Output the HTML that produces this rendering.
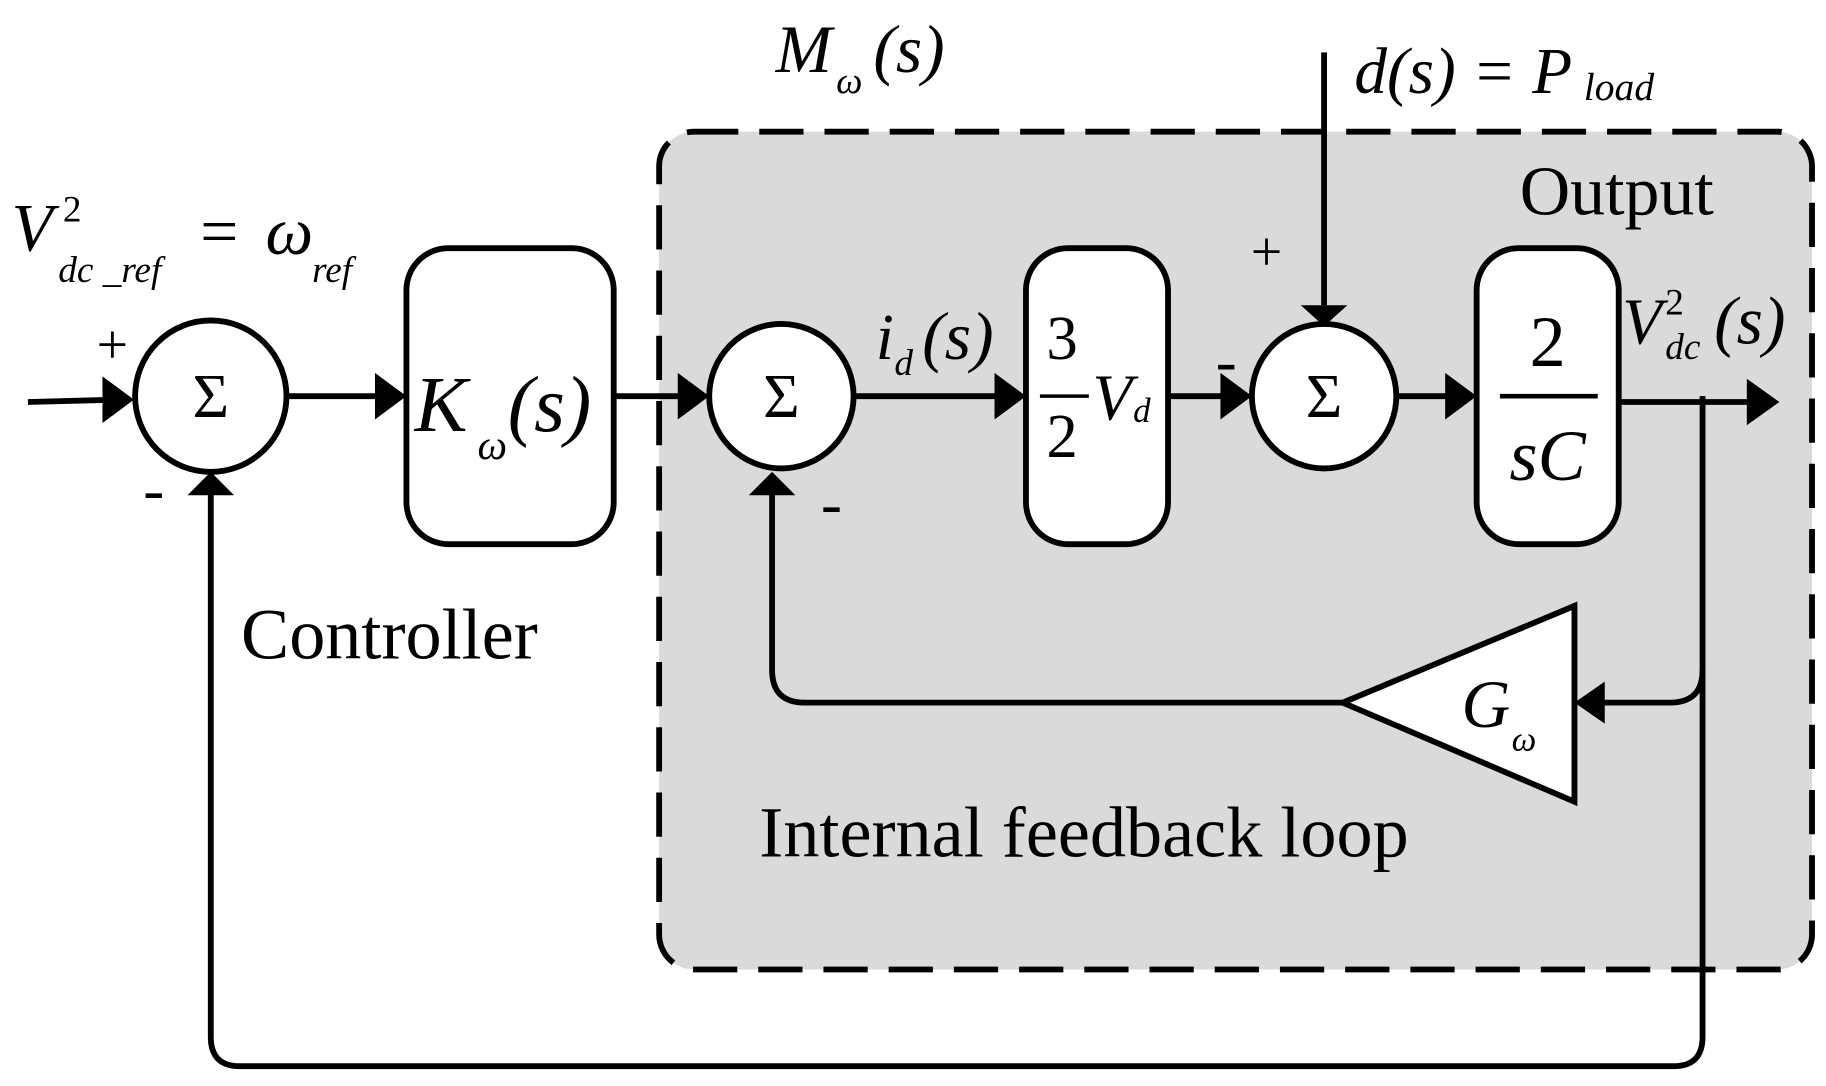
<!DOCTYPE html>
<html><head><style>
html,body{margin:0;padding:0;background:#fff;width:1826px;height:1086px;overflow:hidden}
svg{display:block}
text{font-family:"Liberation Serif",serif;fill:#000}
.i{font-style:italic}
</style></head><body>
<svg width="1826" height="1086" viewBox="0 0 1568 932" preserveAspectRatio="none" xmlns="http://www.w3.org/2000/svg">
<rect x="566" y="113" width="990" height="719" rx="30" fill="#d9dad9" stroke="#000" stroke-width="5" stroke-dasharray="38,18"/>
<g stroke="#000" stroke-width="5" fill="none">
<line x1="24" y1="345" x2="100" y2="343"/>
<path d="M88,323 L115,343 L88,363 z" fill="#000" stroke="none"/>
<circle cx="181" cy="340" r="65" fill="#fff"/>
<line x1="247" y1="340" x2="330" y2="340"/>
<path d="M322,320 L349,340 L322,360 z" fill="#000" stroke="none"/>
<rect x="349" y="213" width="178" height="254" rx="36" fill="#fff"/>
<line x1="527" y1="340" x2="590" y2="340"/>
<path d="M582,320 L609,340 L582,360 z" fill="#000" stroke="none"/>
<circle cx="671" cy="340" r="62" fill="#fff"/>
<line x1="733" y1="340" x2="862" y2="340"/>
<path d="M854,320 L881,340 L854,360 z" fill="#000" stroke="none"/>
<rect x="881" y="213" width="122" height="254" rx="36" fill="#fff"/>
<line x1="1003" y1="340" x2="1060" y2="340"/>
<path d="M1048,320 L1075,340 L1048,360 z" fill="#000" stroke="none"/>
<circle cx="1137" cy="340" r="62" fill="#fff"/>
<line x1="1137" y1="45" x2="1137" y2="262"/>
<path d="M1117,262 L1137,280 L1157,262 z" fill="#000" stroke="none"/>
<line x1="1199" y1="340" x2="1250" y2="340"/>
<path d="M1241,320 L1268,340 L1241,360 z" fill="#000" stroke="none"/>
<rect x="1268" y="213" width="122" height="254" rx="36" fill="#fff"/>
<line x1="1390" y1="345" x2="1505" y2="345"/>
<path d="M1500,325 L1528,345 L1500,365 z" fill="#000" stroke="none"/>
<path d="M1462,340 L1462,890 Q1462,915 1437,915 L206,915 Q181,915 181,890 L181,420"/>
<path d="M161,425 L181,405 L201,425 z" fill="#000" stroke="none"/>
<path d="M1462,575 Q1462,603 1434,603 L1370,603"/>
<path d="M1378,585 L1352,603 L1378,621 z" fill="#000" stroke="none"/>
<path d="M1352,520 L1352,688 L1153,603 z" fill="#fff"/>
<path d="M1153,603 L691,603 Q663,603 663,575 L663,420"/>
<path d="M643,425 L663,405 L683,425 z" fill="#000" stroke="none"/>
<line x1="1288" y1="340" x2="1372" y2="340" stroke-width="4"/>
<line x1="893" y1="340" x2="935" y2="340" stroke-width="3"/>
</g>
<g font-size="56">
<text x="181" y="358" text-anchor="middle" font-size="54">Σ</text>
<text x="671" y="358" text-anchor="middle" font-size="54">Σ</text>
<text x="1137" y="358" text-anchor="middle" font-size="54">Σ</text>
<text x="83" y="312" font-size="48">+</text>
<text x="1074" y="232" font-size="48">+</text>
<text x="123" y="438" font-size="54">-</text>
<text x="705" y="450" font-size="54">-</text>
<text x="1044" y="328" font-size="54">-</text>

<text x="356" y="370" font-size="68" class="i">K</text>
<text x="410" y="394" font-size="36" class="i">ω</text>
<text x="436" y="370" font-size="68" class="i">(s)</text>

<text x="912" y="308" font-size="54" text-anchor="middle">3</text>
<text x="912" y="392" font-size="54" text-anchor="middle">2</text>
<text x="938" y="360" font-size="56" class="i">V</text>
<text x="973" y="362" font-size="30" class="i">d</text>

<text x="1329" y="314" font-size="62" text-anchor="middle">2</text>
<text x="1329" y="412" font-size="62" class="i" text-anchor="middle">sC</text>

<text x="752" y="308" font-size="56" class="i">i</text>
<text x="768" y="322" font-size="32" class="i">d</text>
<text x="792" y="308" font-size="58" class="i">(s)</text>

<text x="1393" y="295" font-size="56" class="i">V</text>
<text x="1430" y="270" font-size="32">2</text>
<text x="1430" y="308" font-size="32" class="i">dc</text>
<text x="1472" y="295" font-size="58" class="i">(s)</text>

<text x="1305" y="184" font-size="60">Output</text>

<text x="1163" y="80" font-size="56" class="i">d(s) = P</text>
<text x="1360" y="86" font-size="34" class="i">load</text>

<text x="666" y="62" font-size="58" class="i">M</text>
<text x="718" y="80" font-size="32" class="i">ω</text>
<text x="750" y="62" font-size="58" class="i">(s)</text>

<text x="10" y="215" font-size="58" class="i">V</text>
<text x="54" y="190" font-size="32">2</text>
<text x="50" y="242" font-size="32" class="i">dc _ref</text>
<text x="172" y="218" font-size="58">=</text>
<text x="228" y="218" font-size="58" class="i">ω</text>
<text x="268" y="242" font-size="32" class="i">ref</text>

<text x="1255" y="624" font-size="58" class="i">G</text>
<text x="1298" y="644" font-size="30" class="i">ω</text>

<text x="207" y="565" font-size="62">Controller</text>
<text x="652" y="735" font-size="62">Internal feedback loop</text>
</g>
</svg>
</body></html>
